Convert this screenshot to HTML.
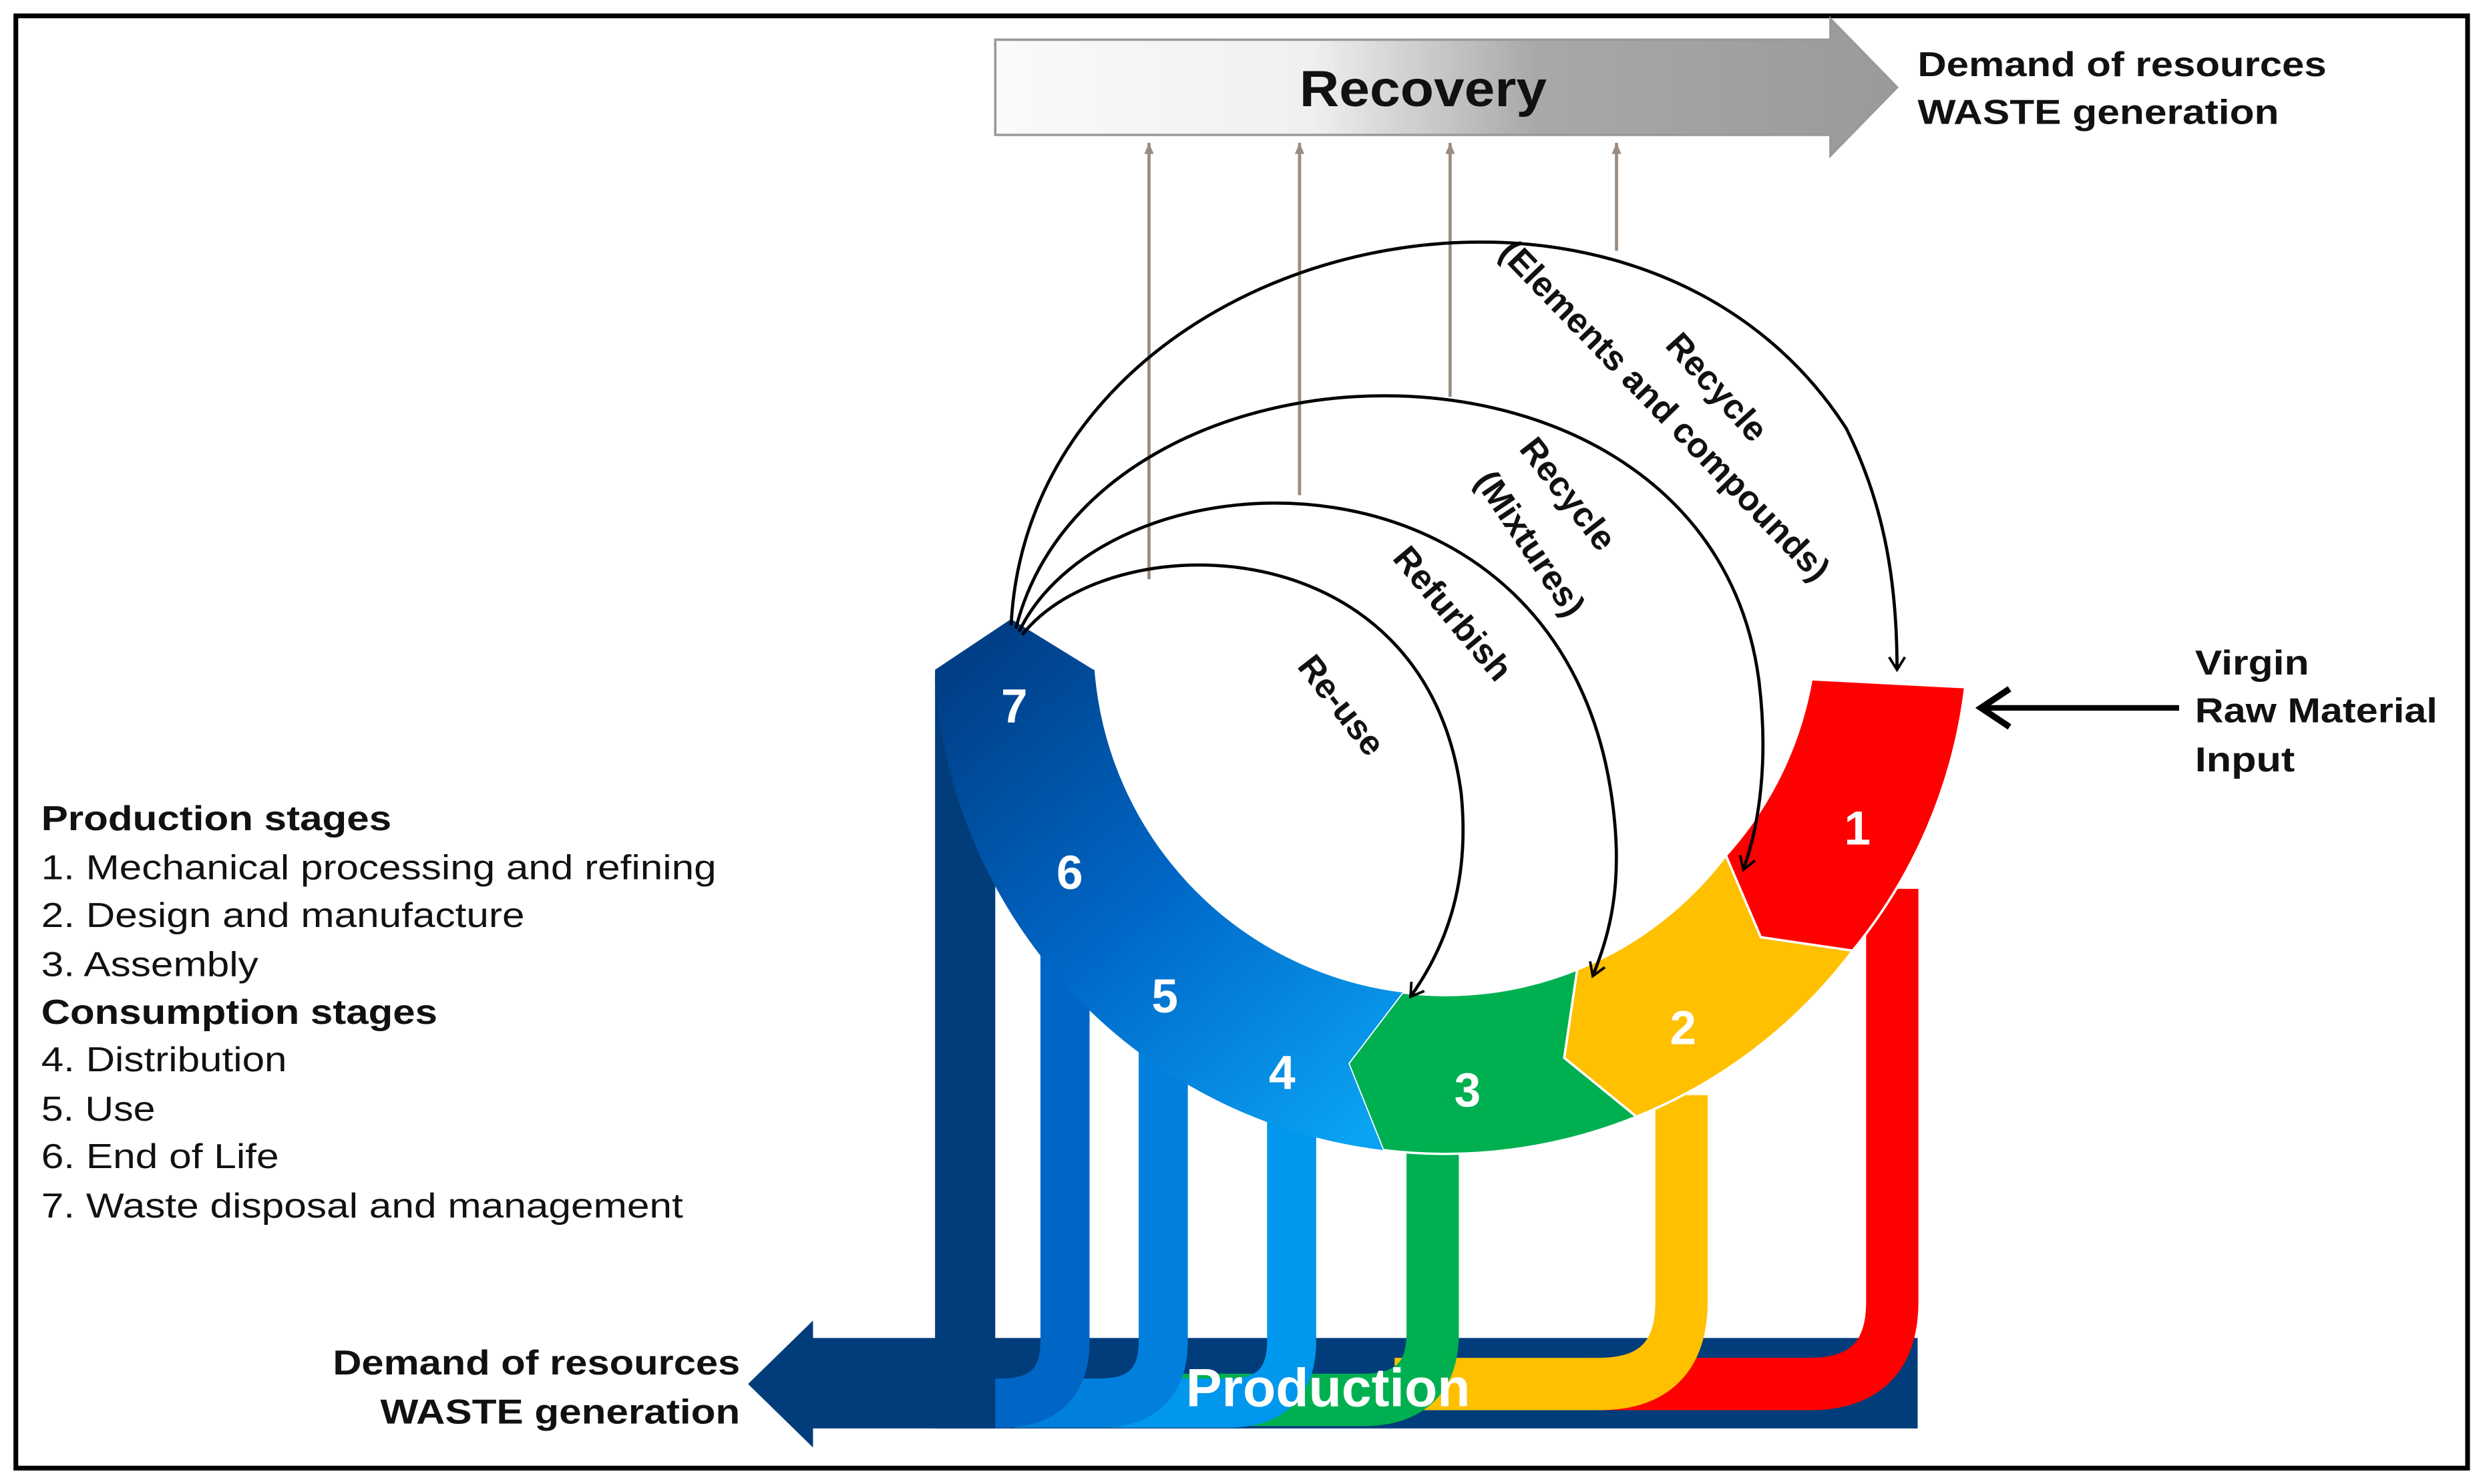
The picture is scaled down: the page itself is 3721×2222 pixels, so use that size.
<!DOCTYPE html>
<html><head><meta charset="utf-8"><style>
html,body{margin:0;padding:0;background:#fff;}
svg{display:block;}
text{font-family:"Liberation Sans",Arial,sans-serif;}
</style></head><body>
<svg width="3721" height="2222" viewBox="0 0 1568 935" preserveAspectRatio="none" xmlns="http://www.w3.org/2000/svg">
<defs>
<linearGradient id="rec" x1="0" y1="0" x2="1" y2="0">
<stop offset="0" stop-color="#fafafa"/><stop offset="0.35" stop-color="#f0f0f0"/><stop offset="0.6" stop-color="#a8a8a8"/><stop offset="1" stop-color="#9a9a9a"/>
</linearGradient>
<linearGradient id="blue" gradientUnits="userSpaceOnUse" x1="860" y1="710" x2="610" y2="420">
<stop offset="0" stop-color="#0aa2f2"/><stop offset="0.5" stop-color="#0068c8"/><stop offset="1" stop-color="#003f88"/>
</linearGradient>
<marker id="ah" markerWidth="12" markerHeight="12" refX="9" refY="6" orient="auto" markerUnits="userSpaceOnUse">
<path d="M1,1 L9,6 L1,11" fill="none" stroke="#000" stroke-width="1.6"/>
</marker>
<marker id="gh" markerWidth="8" markerHeight="10" refX="7" refY="4" orient="auto" markerUnits="userSpaceOnUse">
<path d="M0,1 L7,4 L0,7 Z" fill="#9a8c80"/>
</marker>
</defs>
<rect x="10" y="10" width="1547" height="915" fill="#fff" stroke="#000" stroke-width="3"/>

<!-- Recovery arrow -->
<path d="M628,25 H1155 V12 L1197,55 L1155,98 V85 H628 Z" fill="url(#rec)" stroke="#999" stroke-width="1.5"/>
<text x="820" y="67" font-size="32" font-weight="bold" fill="#111" textLength="156" lengthAdjust="spacingAndGlyphs">Recovery</text>
<text x="1210" y="48" font-size="22" font-weight="bold" fill="#111" textLength="258" lengthAdjust="spacingAndGlyphs">Demand of resources</text>
<text x="1210" y="78" font-size="22" font-weight="bold" fill="#111" textLength="228" lengthAdjust="spacingAndGlyphs">WASTE generation</text>

<!-- gray vertical arrows -->
<g stroke="#9a8c80" stroke-width="2" marker-end="url(#gh)">
<line x1="725" y1="365" x2="725" y2="90"/>
<line x1="820" y1="312" x2="820" y2="90"/>
<line x1="915" y1="250" x2="915" y2="90"/>
<line x1="1020" y1="158" x2="1020" y2="90"/>
</g>

<g font-size="22" font-weight="bold" fill="#111">
<text transform="translate(818,420) rotate(52)">Re-use</text>
<text transform="translate(878,352) rotate(50)">Refurbish</text>
<text transform="translate(958,283) rotate(52)">Recycle</text>
<text transform="translate(930,303) rotate(56)">(Mixtures)</text>
<text transform="translate(1050,218) rotate(48)">Recycle</text>
<text transform="translate(945,160) rotate(46)">(Elements and compounds)</text>
</g>

<!-- Production bar -->
<rect x="510" y="843" width="700" height="57" fill="#003d7a"/>
<polygon points="513,832 472,872 513,912" fill="#003d7a"/>

<!-- legs -->
<g fill="none" stroke-width="33">
<path d="M1194,560 V820 Q1194,872 1142,872 H1000" stroke="#ff0000"/>
<path d="M1061,690 V820 Q1061,872 1009,872 H880" stroke="#ffc000"/>
<path d="M904,700 V840 Q904,882 860,882 H740" stroke="#00b050"/>
<path d="M815,680 V845 Q815,884 775,884 H700" stroke="#0097ec" stroke-width="31"/>
<path d="M734,620 V845 Q734,884 694,884 H640" stroke="#0080dc" stroke-width="31"/>
<path d="M672,540 V845 Q672,884 632,884 H600" stroke="#0066c6" stroke-width="31"/>
</g>
<rect x="590" y="425" width="38" height="475" fill="#003d7a"/>

<!-- ring -->
<g stroke="#fff" stroke-width="1.5">
<path d="M1143,428 L1240,433 A322,322 0 0 1 1169,599 L1111,590.5 L1089,539 A222,222 0 0 0 1143,428 Z" fill="#ff0000"/>
<path d="M1169,599 A322,322 0 0 1 1032.6,703.6 L987,666.5 L995.2,610.8 A222,222 0 0 0 1089,539 L1111,590.5 Z" fill="#ffc000"/>
<path d="M1032.6,703.6 A322,322 0 0 1 872.7,724.6 L850.8,670 L884.9,625.3 A222,222 0 0 0 995.2,610.8 L987,666.5 Z" fill="#00b050"/>
<path d="M872.7,724.6 A322,322 0 0 1 590,429.7 L590,422 L638,390 L690,422 L690.6,422 A222,222 0 0 0 884.9,625.3 L850.8,670 Z" fill="url(#blue)" stroke="none"/>
</g>

<!-- black arcs -->
<g fill="none" stroke="#000" stroke-width="2" marker-end="url(#ah)">
<path d="M645,400 C700,330 900,330 922,500 C928,560 910,600 890,628"/>
<path d="M643,398 C700,280 990,270 1018,510 C1024,560 1015,590 1005,615"/>
<path d="M641,396 C690,200 1080,190 1110,430 C1116,480 1110,520 1100,548"/>
<path d="M638,394 C650,150 1030,60 1165,270 C1190,320 1197,370 1197,422"/>
</g>

<g font-size="30" font-weight="bold" fill="#fff" text-anchor="middle">
<text x="1172" y="532">1</text>
<text x="1062" y="658">2</text>
<text x="926" y="697">3</text>
<text x="809" y="686">4</text>
<text x="735" y="638">5</text>
<text x="675" y="560">6</text>
<text x="640" y="455">7</text>
</g>
<text x="838" y="886" font-size="34" font-weight="bold" fill="#fff" text-anchor="middle">Production</text>

<!-- virgin input -->
<line x1="1375" y1="446" x2="1250" y2="446" stroke="#000" stroke-width="3.5"/>
<path d="M1268,434 L1250,446 L1268,458" fill="none" stroke="#000" stroke-width="4"/>
<g font-size="22" font-weight="bold" fill="#111">
<text x="1385" y="425" textLength="72" lengthAdjust="spacingAndGlyphs">Virgin</text>
<text x="1385" y="455" textLength="153" lengthAdjust="spacingAndGlyphs">Raw Material</text>
<text x="1385" y="486" textLength="63" lengthAdjust="spacingAndGlyphs">Input</text>
<text x="210" y="866" textLength="257" lengthAdjust="spacingAndGlyphs">Demand of resources</text>
<text x="240" y="897" textLength="227" lengthAdjust="spacingAndGlyphs">WASTE generation</text>
</g>

<!-- legend -->
<g font-size="22" fill="#111">
<text x="26" y="523" font-weight="bold" textLength="221" lengthAdjust="spacingAndGlyphs">Production stages</text>
<text x="26" y="554" textLength="426" lengthAdjust="spacingAndGlyphs">1. Mechanical processing and refining</text>
<text x="26" y="584" textLength="305" lengthAdjust="spacingAndGlyphs">2. Design and manufacture</text>
<text x="26" y="615" textLength="137" lengthAdjust="spacingAndGlyphs">3. Assembly</text>
<text x="26" y="645" font-weight="bold" textLength="250" lengthAdjust="spacingAndGlyphs">Consumption stages</text>
<text x="26" y="675" textLength="155" lengthAdjust="spacingAndGlyphs">4. Distribution</text>
<text x="26" y="706" textLength="72" lengthAdjust="spacingAndGlyphs">5. Use</text>
<text x="26" y="736" textLength="150" lengthAdjust="spacingAndGlyphs">6. End of Life</text>
<text x="26" y="767" textLength="405" lengthAdjust="spacingAndGlyphs">7. Waste disposal and management</text>
</g>
</svg>
</body></html>
